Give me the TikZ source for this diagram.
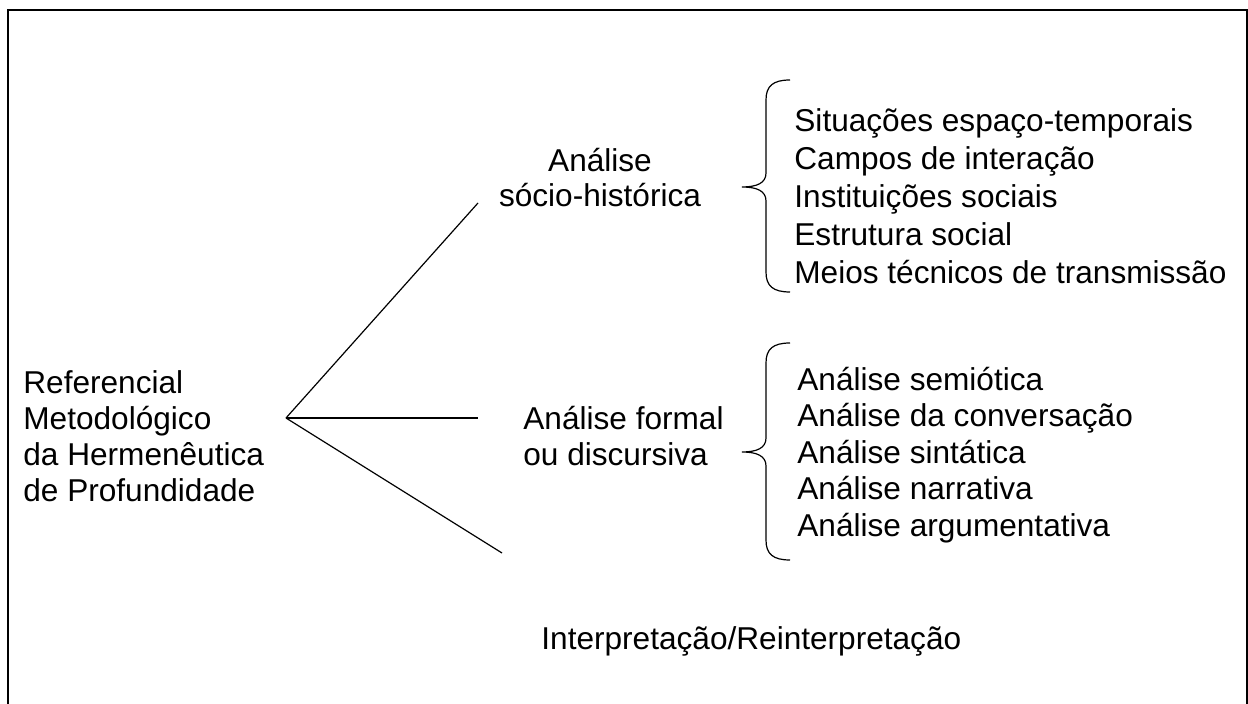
\documentclass[tikz,border=0pt]{standalone}
\usepackage{fontspec}
\setmainfont{Liberation Sans}
\usepackage{tikz}
\usetikzlibrary{positioning}

\begin{document}
\begin{tikzpicture}[x=0.5pt,y=-0.5pt,
    txt/.style={align=left,inner sep=0pt,anchor=west,font=\fontsize{15.8}{18}\selectfont},
    ramo/.style={line width=0.6pt},
    chave/.style={line width=0.6pt}]
  \useasboundingbox (0,0) rectangle (1248,704);
  \clip (0,0) rectangle (1248,704);
  \draw[line width=1pt] (7.5,720) |- (1246.5,10.5) -- (1246.5,720);

  \node[txt] (ref) at (23,436) {Referencial\\Metodológico\\da Hermenêutica\\de Profundidade};
  \node[txt,align=center,anchor=center,font=\fontsize{15.8}{17.5}\selectfont] (socio) at (600,178) {Análise\\sócio-histórica};
  \node[txt] (formal) at (523,436) {Análise formal\\ou discursiva};
  \node[txt] (interp) at (541,641) {Interpretação/Reinterpretação};
  \node[txt,font=\fontsize{15.8}{19}\selectfont] (lsocio) at (794,196) {Situações espaço-temporais\\Campos de interação\\Instituições sociais\\Estrutura social\\Meios técnicos de transmissão};
  \node[txt,font=\fontsize{15.8}{18.25}\selectfont] (lformal) at (797,455) {Análise semiótica\\Análise da conversação\\Análise sintática\\Análise narrativa\\Análise argumentativa};

  % ramos
  \coordinate (apex) at (286,418);
  \coordinate (fimsocio) at (478,203);
  \coordinate (fimformal) at (478,418);
  \coordinate (fiminterp) at (502,553);
  \draw[ramo] (apex) -- (fimsocio);
  \draw[ramo] (apex) -- (fimformal);
  \draw[ramo] (apex) -- (fiminterp);

  % chaves
  \draw[chave] (790,80) .. controls (773,80) and (766,86) .. (766,100) -- (766,173)
    .. controls (766,183) and (757,187) .. (742,187)
    .. controls (757,187) and (766,191) .. (766,201) -- (766,272)
    .. controls (766,286) and (773,292) .. (790,292);
  \draw[chave] (790,343) .. controls (773,343) and (766,349) .. (766,363) -- (766,438)
    .. controls (766,448) and (757,452) .. (742,452)
    .. controls (757,452) and (766,456) .. (766,466) -- (766,540)
    .. controls (766,554) and (773,560) .. (790,560);
\end{tikzpicture}
\end{document}
